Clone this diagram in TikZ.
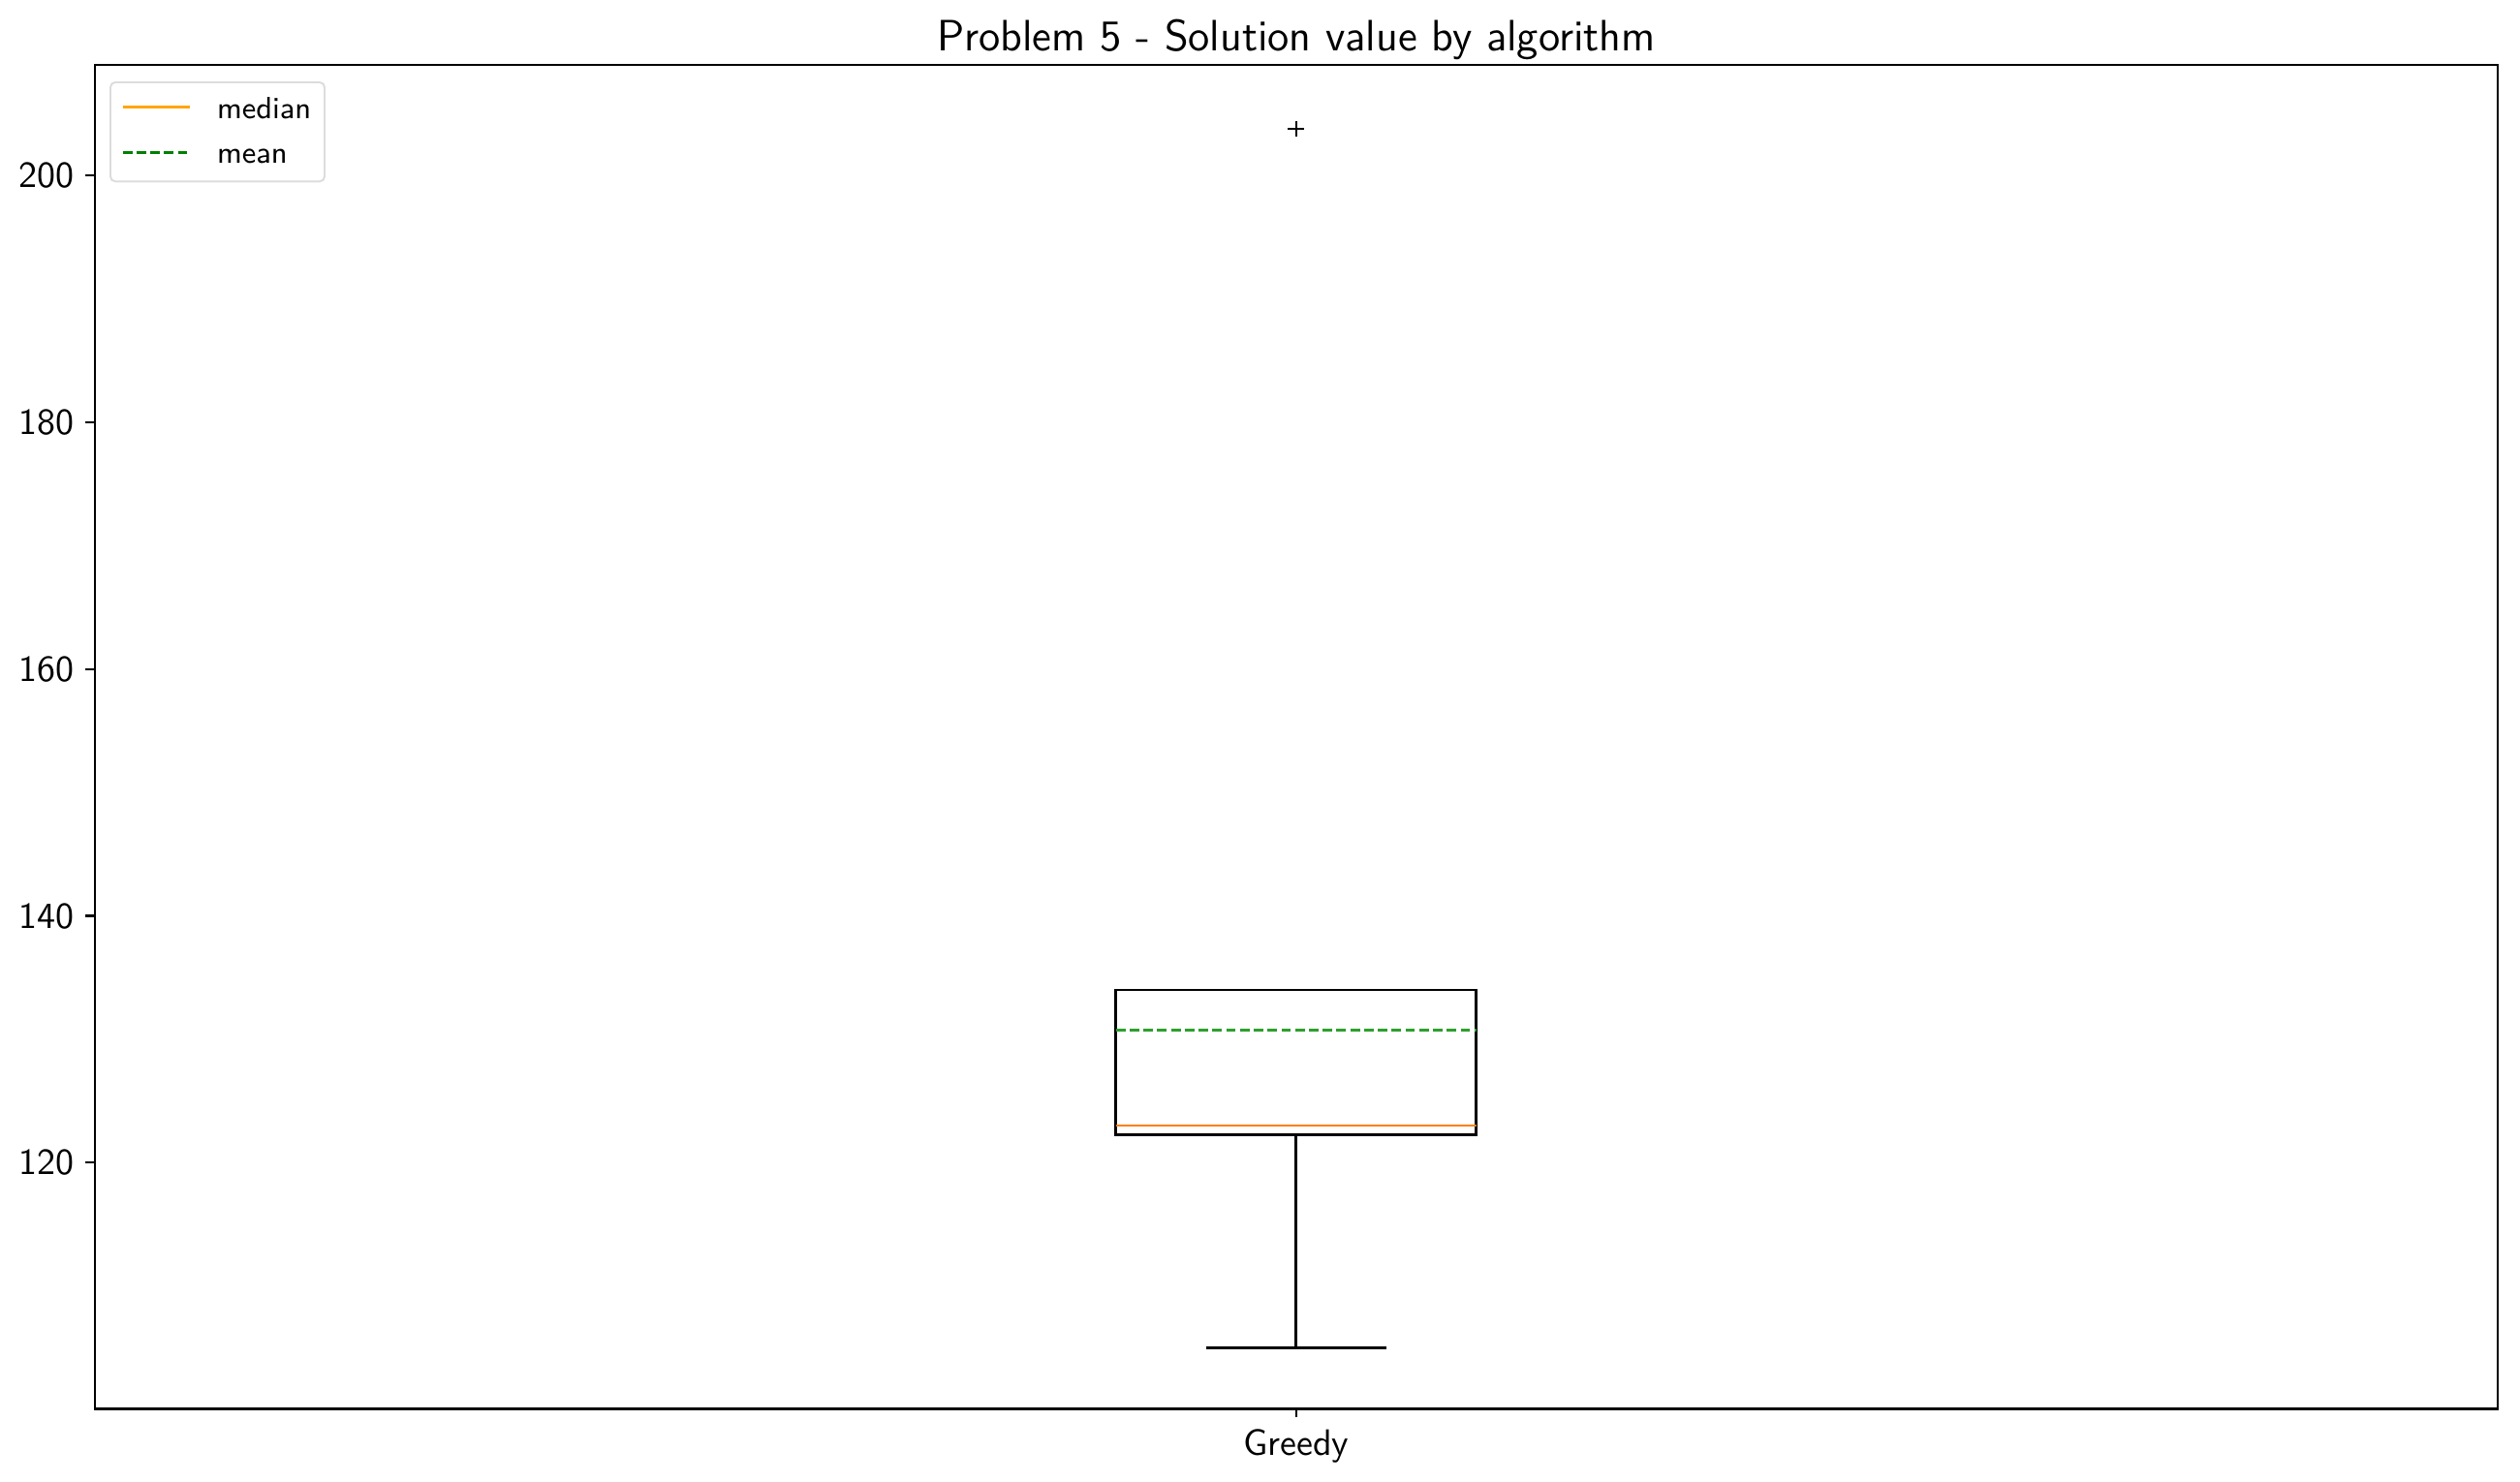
\documentclass[tikz,border=0pt]{standalone}
\usepackage{fontspec}
\usepackage{tikz}
\definecolor{boxorange}{HTML}{FF7F0E}
\definecolor{boxgreen}{HTML}{2CA02C}
\definecolor{legorange}{HTML}{FFA500}
\definecolor{leggreen}{HTML}{008000}
\definecolor{legframe}{HTML}{DCDCDC}
\begin{document}
\begin{tikzpicture}[
  ticklabel/.style={font=\sffamily\fontsize{10.8}{13}\selectfont, inner sep=0pt},
  legtext/.style={font=\sffamily\fontsize{9}{11}\selectfont, inner sep=0pt},
  spine/.style={line width=0.65pt},
  boxline/.style={line width=0.75pt},
  meanline/.style={line width=0.75pt, dash pattern=on 2.8pt off 1.25pt}]
\useasboundingbox (0,0) rectangle (26.01,15.29);
\node[anchor=base, inner sep=0pt, font=\sffamily\fontsize{12.9}{15}\selectfont] (title) at (13.378,14.765) {Problem 5 - Solution value by algorithm};
\begin{scope}[shift={(-11.423,-11.999)}, x=24.80cm, y=0.127375cm]
% axes
\draw[spine] (0.5,100.05) rectangle (1.5,208.95);
\foreach \v in {120,140,...,200} {
  \draw[spine] (0.5,\v) -- ++(-0.094cm,0);
  \node[ticklabel, anchor=east] (ylab\v) at ([xshift=-0.21cm]0.5,\v) {\v};
}
\draw[spine] (1,100.05) -- ++(0,-0.09cm);
\node[ticklabel, anchor=north] (xlab) at ([yshift=-0.205cm]1,100.05) {Greedy};
% box, whiskers, caps
\draw[boxline] (0.925,122.25) rectangle (1.075,134);
\draw[boxline] (1,122.25) -- (1,105);
\draw[boxline] (0.9625,105) -- (1.0375,105);
\draw[boxline] (0.9625,134) -- (1.0375,134);
\draw[boxline, boxorange] (0.925,123) -- (1.075,123);
\draw[meanline, boxgreen] (0.925,130.72) -- (1.075,130.72);
% outlier
\coordinate (flier) at (1,203.8);
\draw[line width=0.6pt] (flier) +(-0.083cm,0) -- +(0.083cm,0)
  (flier) +(0,-0.083cm) -- +(0,0.083cm);
\end{scope}
% legend
\draw[legframe, line width=0.55pt, rounded corners=0.05cm, fill=white] (1.14,13.417) rectangle (3.35,14.44);
\draw[boxline, legorange] (1.267,14.187) -- (1.96,14.187);
\draw[meanline, leggreen] (1.267,13.717) -- (1.96,13.717);
\node[legtext, anchor=base west] (legmedian) at (2.233,14.063) {median};
\node[legtext, anchor=base west] (legmean) at (2.233,13.60) {mean};
\end{tikzpicture}
\end{document}
